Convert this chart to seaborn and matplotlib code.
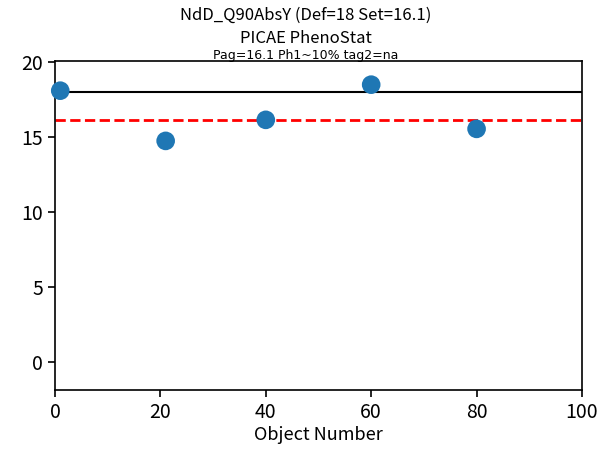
import matplotlib
matplotlib.use("Agg")
import matplotlib.pyplot as plt
import seaborn as sns
import pandas as pd

# Data
object_number = [1, 21, 40, 60, 80]
values = [18.07, 14.73, 16.13, 18.47, 15.53]
default_value = 18
set_value = 16.1

title_top = "NdD_Q90AbsY (Def=18 Set=16.1)"
title_main = "PICAE PhenoStat"
title_sub = "Pag=16.1 Ph1~10% tag2=na"

sns.set_style("ticks", {"axes.edgecolor": "black", "xtick.color": "black",
                        "ytick.color": "black", "text.color": "black",
                        "axes.labelcolor": "black"})
plt.rcParams["font.family"] = ["Noto Sans CJK JP", "DejaVu Sans"]

df = pd.DataFrame({"obj": object_number, "val": values})

fig = plt.figure(figsize=(6.11, 4.65), dpi=100)
ax = fig.add_axes([0.090, 0.161, 0.8625, 0.708])

ax.axhline(default_value, color="black", lw=1.5, zorder=1)
ax.axhline(set_value, color="red", lw=2, ls="--", zorder=1)
sns.scatterplot(data=df, x="obj", y="val", s=180, color="#1f77b4",
                edgecolor="none", ax=ax, zorder=3, clip_on=False)

ax.set_xlim(0, 100)
ax.set_ylim(-1.85, 20.05)
ax.set_xticks([0, 20, 40, 60, 80, 100])
ax.set_yticks([0, 5, 10, 15, 20])
ax.tick_params(labelsize=14, width=1.2, length=5)
ax.set_xlabel("Object Number", fontsize=13, labelpad=2)
ax.set_ylabel("")
for s in ax.spines.values():
    s.set_visible(True)
    s.set_linewidth(1.2)

# title block above the axes
fig.text(0.5, 0.985, title_top, ha="center", va="top", fontsize=12)
fig.text(0.5, 0.935, title_main, ha="center", va="top", fontsize=12)
fig.text(0.5, 0.895, title_sub, ha="center", va="top", fontsize=9,
         family="DejaVu Sans")

fig.savefig("out.png", dpi=100)
